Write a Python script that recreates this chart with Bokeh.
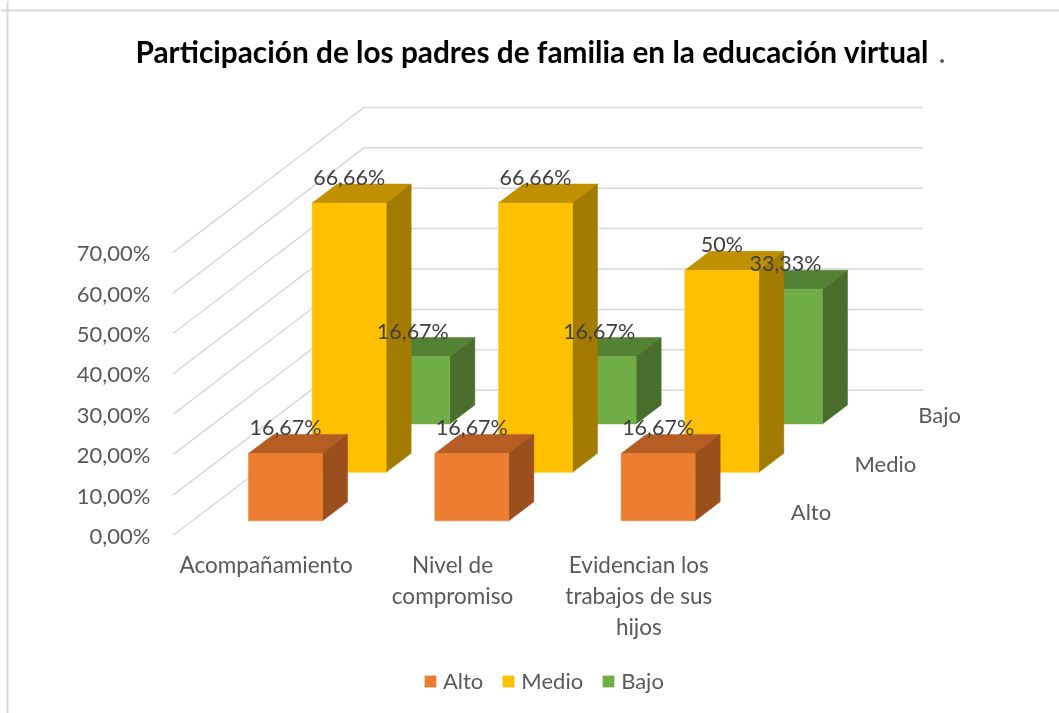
from bokeh.plotting import figure
from bokeh.models import Range1d, FixedTicker, Legend, LegendItem, Span
from bokeh.core.properties import value
from bokeh.embed import file_html
from bokeh.resources import INLINE

# ---------- data ----------
categories = ["Acompañamiento", "Nivel de\ncompromiso", "Evidencian los\ntrabajos de sus\nhijos"]
series_names = ["Alto", "Medio", "Bajo"]
alto = [16.67, 16.67, 16.67]
medio = [66.66, 66.66, 50.0]
bajo = [16.67, 16.67, 33.33]
alto_labels = ["16,67%", "16,67%", "16,67%"]
medio_labels = ["66,66%", "66,66%", "50%"]
bajo_labels = ["16,67%", "16,67%", "33,33%"]
tick_values = [0, 10, 20, 30, 40, 50, 60, 70]
tick_labels = ["0,00%", "10,00%", "20,00%", "30,00%", "40,00%", "50,00%", "60,00%", "70,00%"]

# ---------- layout ----------
W, H = 1059, 713
OX, OY = 0, 0
X0, Y0 = 172.5, 535.0         # pixel of category 0 / 0 %
PX_CAT, PX_PCT = 186.33, 4.04 # pixels per category / per percent
DX = 191.0 / PX_CAT           # full depth, in category units
DY = 145.3 / PX_PCT           # full depth, in percent units
BAR_W = 74.0 / PX_CAT
BAR_D = 0.131
FONT = "Lato"
GRID = "#D9D9D9"

def fx(px):
    return (px - X0) / PX_CAT

def fy(py):
    return (Y0 - py) / PX_PCT

p = figure(width=W, height=H, output_backend="svg", toolbar_location=None,
           x_range=Range1d(fx(OX), fx(OX + W)), y_range=Range1d(fy(OY + H), fy(OY)),
           min_border=0, background_fill_color="white", border_fill_color="white")
p.styles = {"position": "fixed", "left": "0px", "top": "0px"}
p.outline_line_color = None
p.grid.visible = False

# ---------- axes ----------
ya = p.yaxis[0]
ya.fixed_location = fx(160)
ya.ticker = FixedTicker(ticks=tick_values)
ya.major_label_overrides = {v: s for v, s in zip(tick_values, tick_labels)}
ya.axis_line_color = None
ya.major_tick_line_color = None
ya.minor_tick_line_color = None
ya.major_label_standoff = 4
ya.major_label_text_font = FONT
ya.major_label_text_font_size = "22px"
ya.major_label_text_color = "#595959"

xa = p.xaxis[0]
xa.fixed_location = 0
tick_x = [i + 0.5 for i in range(len(categories))]
xa.ticker = FixedTicker(ticks=tick_x)
xa.major_label_overrides = {v: s for v, s in zip(tick_x, categories)}
xa.axis_line_color = None
xa.major_tick_line_color = None
xa.minor_tick_line_color = None
xa.major_label_standoff = 9
xa.major_label_text_font = FONT
xa.major_label_text_font_size = "22.5px"
xa.major_label_text_color = "#595959"
xa.major_label_text_line_height = 1.15

# ---------- chart border ----------
p.add_layout(Span(location=fx(7), dimension="height", line_color=GRID, line_width=2))
p.add_layout(Span(location=fy(10), dimension="width", line_color=GRID, line_width=2))

# ---------- gridlines on the side wall and the back wall ----------
n = len(categories)
p.multi_line(xs=[[0, DX, n + DX] for _ in tick_values],
             ys=[[v, v + DY, v + DY] for v in tick_values],
             line_color=GRID, line_width=1.5)

# ---------- bars ----------
colors = {
    "Alto": ("#ED7D31", "#B55D23", "#9A4F1D"),
    "Medio": ("#FFC000", "#BF9000", "#A37B00"),
    "Bajo": ("#70AD47", "#548235", "#4A6F2C"),
}
vals = {"Alto": alto, "Medio": medio, "Bajo": bajo}
labs = {"Alto": alto_labels, "Medio": medio_labels, "Bajo": bajo_labels}
front_renderers = {}
lx, ly, lt = [], [], []

for s in [2, 1, 0]:
    name = series_names[s]
    front, top, side = colors[name]
    t0 = (s + 0.5) / 3 - BAR_D / 2
    lefts = [i + 0.5 - BAR_W / 2 + DX * t0 for i in range(n)]
    rights = [l + BAR_W for l in lefts]
    bottoms = [DY * t0] * n
    tops = [b + v for b, v in zip(bottoms, vals[name])]
    ddx, ddy = DX * BAR_D, DY * BAR_D
    p.patches(xs=[[l, r, r + ddx, l + ddx] for l, r in zip(lefts, rights)],
              ys=[[t, t, t + ddy, t + ddy] for t in tops],
              fill_color=top, line_color=top, line_width=0.5)
    p.patches(xs=[[r, r + ddx, r + ddx, r] for r in rights],
              ys=[[b, b + ddy, t + ddy, t] for b, t in zip(bottoms, tops)],
              fill_color=side, line_color=side, line_width=0.5)
    front_renderers[name] = p.quad(left=lefts, right=rights, bottom=bottoms, top=tops,
                                   fill_color=front, line_color=front, line_width=0.5)
    lx += [(l + r) / 2 for l, r in zip(lefts, rights)]
    ly += tops
    lt += labs[name]

# ---------- data labels ----------
p.text(x=lx, y=ly, text=lt, text_font=value(FONT), text_font_size="21.5px",
       text_color="#404040", text_align="center", text_baseline="middle", y_offset=-26)

# ---------- depth axis labels ----------
p.text(x=[n + DX * (s + 0.5) / 3 for s in range(3)],
       y=[DY * (s + 0.5) / 3 for s in range(3)],
       text=series_names, text_font=value(FONT), text_font_size="22px",
       text_color="#595959", text_align="left", text_baseline="middle",
       x_offset=27, y_offset=0.5)

# ---------- title ----------
p.text(x=[fx(135)], y=[fy(51)], text=["Participación de los padres de familia en la educación virtual"],
       text_font=value(FONT), text_font_size="29.8px", text_font_style="bold",
       text_color="#000000", text_align="left", text_baseline="middle")
p.text(x=[fx(938)], y=[fy(51)], text=["."],
       text_font=value(FONT), text_font_size="30px",
       text_color="#595959", text_align="left", text_baseline="middle")

# ---------- legend ----------
legend = Legend(items=[LegendItem(label=nm, renderers=[front_renderers[nm]]) for nm in series_names],
                orientation="horizontal", location=(423, 19), border_line_color=None,
                background_fill_alpha=0, glyph_width=14, glyph_height=14,
                label_standoff=6, spacing=18, padding=4, margin=0,
                label_text_font=FONT, label_text_font_size="22px", label_text_color="#595959")
p.add_layout(legend, "center")

open("out.html", "w").write(file_html(p, INLINE))
